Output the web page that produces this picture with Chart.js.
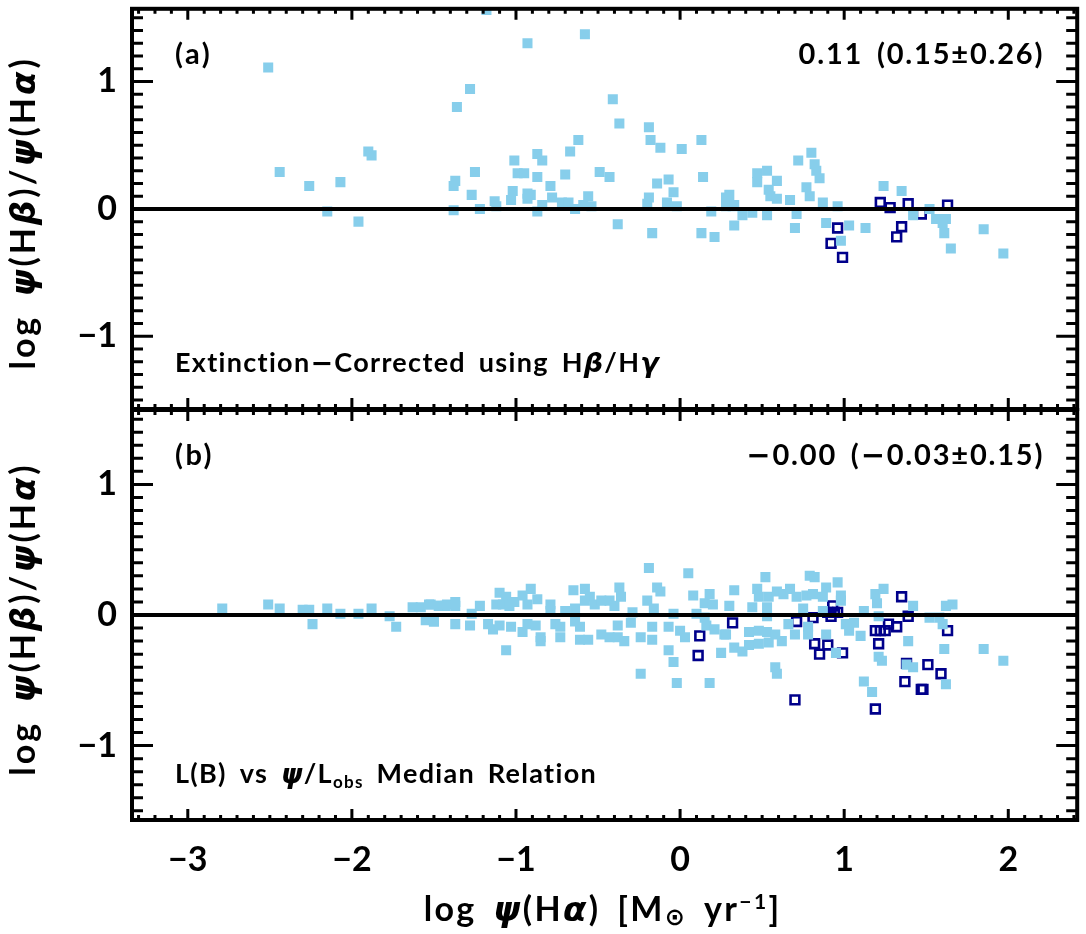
<!DOCTYPE html>
<html>
<head>
<meta charset="utf-8">
<script src="https://cdn.jsdelivr.net/npm/chart.js@4.4.1/dist/chart.umd.min.js"></script>
<style>
  html, body { margin: 0; padding: 0; background: #fff; }
  #wrap { position: relative; width: 1086px; height: 934px; }
  #wrap canvas { position: absolute; left: 0; top: 0; }
</style>
</head>
<body>
<div id="wrap">
  <canvas id="panelA" width="1086" height="934"></canvas>
  <canvas id="panelB" width="1086" height="934"></canvas>
</div>
<script>
// axis ranges
const X_MIN = -3.34, X_MAX = 2.42;
const Y_MIN = -1.57, Y_MAX = 1.57;

// panel (a): extinction-corrected using Hb/Hg
const aFilledX = [-2.51, -2.44, -2.26, -2.07, -2.15, -1.96, -1.90, -1.88,
  -1.18, -0.93, -0.58, -1.28, -1.36, -0.41, -0.37, -0.19, -0.18, -0.12, 0.01, 0.13, 0.14,
  -0.62, -0.67, -0.87, -0.84, -1.01, -1.25, -1.38, -1.37, -0.99, -0.95, -0.87, -0.70, -0.49,
  -0.43, -0.14, -0.07, -0.04, -0.79, -1.27, -1.02, -1.03, -0.93, -0.91, -0.93, -1.13, -1.12,
  -0.78, -0.56, -0.72, -0.68, -0.64, -0.59, -0.54, -0.84, -0.87, -1.22, -1.38, -0.20, -0.19,
  -0.08, -0.02, -0.38, -0.17, 0.13, 0.21, 0.33, 0.19, 0.28, 0.32, 0.28, 0.30, 0.38,
  0.33, 0.44, 0.47, 0.47, 0.53, 0.59, 0.54, 0.55, 0.59, 0.53, 0.67, 0.71, 0.70, 0.72, 0.80,
  0.82, 0.83, 0.85, 0.77, 0.79, 0.87, 0.89, 0.96, 0.98, 1.03, 1.13, 1.24, 1.35, 1.42, 1.52,
  1.56, 1.62, 1.60, 1.61, 1.65, 1.85, 1.97];
const aFilledY = [1.11, 0.29, 0.18, 0.21, -0.02, -0.10, 0.45, 0.42,
  1.56, 1.30, 1.37, 0.94, 0.80, 0.86, 0.67, 0.64, 0.54, 0.48, 0.47, 0.54, 0.25,
  0.54, 0.45, 0.43, 0.38, 0.38, 0.29, 0.18, 0.22, 0.28, 0.28, 0.25, 0.27, 0.29,
  0.25, 0.20, 0.23, 0.13, 0.18, 0.11, 0.14, 0.07, 0.12, 0.11, 0.08, 0.06, 0.02,
  0.09, 0.10, 0.05, 0.05, 0.00, 0.03, 0.02, 0.03, -0.02, 0.00, -0.01, 0.04, 0.09,
  0.05, 0.02, -0.12, -0.19, -0.19, -0.22, -0.13, -0.02, 0.02, 0.02, 0.09, 0.11, -0.05,
  0.03, -0.03, 0.21, 0.28, 0.30, 0.22, 0.15, 0.10, 0.08, -0.05, 0.07, -0.04, -0.15, 0.38, 0.44,
  0.35, 0.30, 0.24, 0.17, 0.10, 0.05, -0.11, 0.02, -0.25, -0.13, -0.15, 0.18, 0.14, -0.05, 0.00,
  -0.08, -0.08, -0.11, -0.19, -0.31, -0.16, -0.35];
const aOpenX = [1.22, 1.28, 1.39, 1.47, 1.63, 0.96, 0.92, 0.99, 1.35, 1.32];
const aOpenY = [0.05, 0.01, 0.04, -0.04, 0.03, -0.15, -0.27, -0.38, -0.14, -0.22];

// panel (b): L(B) vs psi/Lobs median relation
const bFilledX = [-2.79, -2.51, -2.44, -2.30, -2.26, -2.24, -2.15, -2.07, -1.96, -1.88,
  -1.77, -1.73, -1.63, -1.58, -1.53, -1.47, -1.43, -1.55, -1.50,
  -1.52, -1.47, -1.42, -1.37, -1.37, -1.50, -1.37, -1.28, -1.27, -1.22, -1.17, -1.14,
  -1.10, -1.06, -1.12, -1.08, -1.04, -1.01, -1.10, -1.03, -1.06,
  -0.96, -0.91, -0.87, -0.93, -0.96, -0.93, -0.88, -0.85, -0.85,
  -0.79, -0.79, -0.76, -0.73, -0.73, -0.70, -0.64, -0.65, -0.58, -0.55, -0.58,
  -0.64, -0.61, -0.61, -0.56, -0.52, -0.48, -0.43, -0.40,
  -0.48, -0.43, -0.38, -0.34, -0.38, -0.37, -0.36, -0.30, -0.29, -0.24, -0.24,
  -0.19, -0.20, -0.16, -0.14, -0.12, -0.17, -0.17, -0.07, -0.07, -0.04, -0.04, -0.02,
  0.00, 0.03, 0.05, 0.08, 0.15, 0.18, 0.20, 0.18, 0.16, 0.21, 0.27, 0.25, 0.33, 0.38,
  0.33, 0.30, 0.10, 0.15,
  0.28, 0.42, 0.48, 0.53, 0.58, 0.42, 0.48, 0.54, 0.47, 0.48, 0.54, 0.59, 0.63, 0.67,
  0.52, 0.44, 0.53, 0.53, 0.58, 0.59, 0.62, 0.66, 0.70, 0.71, 0.77, 0.81, 0.89,
  0.79, 0.82, 0.75, 0.78, 0.78, 0.87, 0.87, 0.89, 0.95, 0.96, 0.98, 0.98, 1.01, 1.03,
  1.06, 1.12, 1.10, 1.12, 1.17, 1.19, 1.24, 1.20, 1.21, 1.21, 1.23, 1.39, 1.42, 1.38, 1.42,
  1.52, 1.58, 1.62, 1.66, 1.60, 1.61, 1.62, 1.85, 1.97];
const bFilledY = [0.05, 0.08, 0.05, 0.04, 0.04, -0.07, 0.05, 0.01, 0.01, 0.05,
  -0.01, -0.09, 0.06, 0.06, 0.08, 0.07, 0.07, -0.04, -0.05,
  0.08, 0.07, 0.08, 0.10, 0.07, -0.05, -0.07, -0.08, 0.01, 0.07, -0.07, -0.11,
  0.17, 0.14, 0.08, 0.08, 0.07, 0.10, -0.08, -0.09, -0.27,
  0.15, 0.20, 0.12, 0.08, -0.13, -0.07, -0.08, -0.17, -0.20,
  0.08, 0.03, -0.07, -0.17, -0.09, 0.03, 0.05, 0.19, 0.20, 0.14, 0.11,
  -0.05, -0.09, -0.19, -0.19, 0.08, 0.11, 0.11, 0.07,
  -0.15, -0.17, -0.17, -0.20, -0.08, 0.21, 0.14, -0.06, 0.02, -0.17, -0.45,
  0.36, 0.11, 0.05, 0.21, 0.18, -0.09, -0.19, -0.09, -0.27, 0.01, -0.36, -0.52,
  -0.12, -0.17, 0.32, 0.15, 0.09, 0.16, 0.08, -0.52, -0.08, -0.11, -0.15, -0.29, -0.25, -0.28,
  0.19, 0.07, 0.01, -0.02,
  -0.15, -0.13, -0.12, -0.13, -0.15, -0.23, -0.22, -0.21, 0.20, 0.14, 0.14, 0.18, 0.16, 0.20,
  0.29, 0.06, 0.06, -0.01, -0.40, -0.45, -0.20, -0.07, -0.15, 0.14, 0.15, 0.16, 0.21,
  0.30, 0.29, 0.05, -0.09, -0.15, 0.14, 0.03, -0.15, -0.29, 0.25, 0.15, 0.11, -0.07, -0.12,
  -0.06, 0.03, -0.16, -0.51, -0.59, 0.16, 0.20, 0.09, -0.01, -0.32, -0.35, -0.20, 0.07, -0.38, -0.40,
  -0.02, -0.02, 0.07, 0.08, -0.07, -0.26, -0.53, -0.26, -0.35];
const bOpenX = [0.12, 0.11, 0.32, 0.71, 0.81, 0.93, 0.92, 0.94, 0.96, 0.90, 0.82, 0.90,
  0.85, 0.99, 0.70, 1.19, 1.22, 1.25, 1.27, 1.32, 1.39, 1.21, 1.35, 1.63, 1.38, 1.37,
  1.51, 1.59, 1.47, 1.48, 1.19];
const bOpenY = [-0.16, -0.31, -0.06, -0.05, -0.02, 0.07, -0.01, 0.02, 0.02, 0.02, -0.22, -0.23,
  -0.30, -0.29, -0.65, -0.12, -0.12, -0.12, -0.07, -0.09, -0.01, -0.22, 0.14, -0.12, -0.37, -0.51,
  -0.38, -0.45, -0.57, -0.57, -0.72];

const FILL_BLUE = '#87ceeb';
const OPEN_BLUE = '#00008b';
const BASE = 'Lato, "DejaVu Sans", sans-serif';
const GREEK = '"DejaVu Sans", sans-serif';

// panel texts as rich runs: b bold, m wide minus, g greek, sub, gsub, sup
const aLabel = [['(a)', 'b']];
const aStat = [['0.11 (0.15\u00b10.26)', 'b']];
const bLabel = [['(b)', 'b']];
const bStat = [['\u2212', 'm'], ['0.00 (', 'b'], ['\u2212', 'm'], ['0.03\u00b10.15)', 'b']];
const aNote = [['Extinction', 'b'], ['\u2212', 'm'], ['Corrected using H', 'b'], ['\u03b2', 'g'],
  ['/H', 'b'], ['\u03b3', 'g']];
const bNote = [['L(B) vs ', 'b'], ['\u03c8', 'g'], ['/L', 'b'], ['obs', 'sub'], [' Median Relation', 'b']];
const yTitle = [['log ', 'b'], ['\u03c8', 'g'], ['(H', 'b'], ['\u03b2', 'g'], [')/', 'b'],
  ['\u03c8', 'g'], ['(H', 'b'], ['\u03b1', 'g'], [')', 'b']];
const xTitle = [['log ', 'b'], ['\u03c8', 'g'], ['(H', 'b'], ['\u03b1', 'g'], [') [M', 'b'],
  ['\u2299', 'gsub'], [' yr', 'b'], ['\u22121', 'sup'], [']', 'b']];

function toPoints(xs, ys) {
  return xs.map((x, i) => ({ x: x, y: ys[i] }));
}

function minus(v) {
  return v < 0 ? '\u2212' + Math.abs(v) : String(v);
}

function fontFor(kind, size) {
  if (kind === 'g') return 'italic bold ' + size + 'px ' + GREEK;
  if (kind === 'm') return 'bold ' + size + 'px ' + GREEK;
  if (kind === 'sub' || kind === 'sup') return 'bold ' + Math.round(size * 0.62) + 'px ' + BASE;
  if (kind === 'gsub') return 'bold ' + Math.round(size * 0.7) + 'px ' + GREEK;
  return 'bold ' + size + 'px ' + BASE;
}

function drawRich(ctx, parts, x, y, size, align, ls, ws) {
  ctx.letterSpacing = (ls || 0) + 'px';
  ctx.wordSpacing = (ws || 0) + 'px';
  let w = 0;
  parts.forEach(p => { ctx.font = fontFor(p[1], size); w += ctx.measureText(p[0]).width; });
  let cx = align === 'right' ? x - w : align === 'center' ? x - w / 2 : x;
  ctx.textAlign = 'left';
  ctx.textBaseline = 'alphabetic';
  parts.forEach(p => {
    ctx.font = fontFor(p[1], size);
    let dy = 0;
    if (p[1] === 'sub') dy = size * 0.2;
    if (p[1] === 'gsub') dy = size * 0.12;
    if (p[1] === 'sup') dy = -size * 0.36;
    ctx.fillText(p[0], cx, y + dy);
    cx += ctx.measureText(p[0]).width;
  });
  ctx.letterSpacing = '0px';
  ctx.wordSpacing = '0px';
}

// inward IDL-style ticks, frame, zero line and labels
const idlFrame = {
  id: 'idlFrame',
  afterDatasetsDraw(chart, args, opts) {
    const ctx = chart.ctx, a = chart.chartArea;
    const xs = chart.scales.x, ys = chart.scales.y;
    ctx.save();
    ctx.strokeStyle = '#000';
    ctx.lineCap = 'butt';

    const y0 = ys.getPixelForValue(0);
    ctx.lineWidth = 4;
    ctx.beginPath();
    ctx.moveTo(a.left, y0);
    ctx.lineTo(a.right, y0);
    ctx.stroke();

    ctx.lineWidth = 3;
    ctx.beginPath();
    for (let i = Math.ceil(X_MIN * 10); i <= Math.floor(X_MAX * 10); i++) {
      const px = xs.getPixelForValue(i / 10);
      const len = i % 10 === 0 ? 11 : 5;
      ctx.moveTo(px, a.top); ctx.lineTo(px, a.top + len);
      ctx.moveTo(px, a.bottom); ctx.lineTo(px, a.bottom - len);
    }
    for (let i = Math.ceil(Y_MIN * 10); i <= Math.floor(Y_MAX * 10); i++) {
      const py = ys.getPixelForValue(i / 10);
      const len = i % 10 === 0 ? 21 : 11;
      ctx.moveTo(a.left, py); ctx.lineTo(a.left + len, py);
      ctx.moveTo(a.right, py); ctx.lineTo(a.right - len, py);
    }
    ctx.stroke();

    ctx.lineWidth = 4;
    ctx.strokeRect(a.left, a.top, a.right - a.left, a.bottom - a.top);

    ctx.fillStyle = '#000';
    drawRich(ctx, opts.label, a.left + 43, a.top + 55, 29, 'left', 2.5, 6);
    drawRich(ctx, opts.stat, a.right - 33, a.top + 55, 29, 'right', 1.8, 5);
    drawRich(ctx, opts.note, a.left + 43, a.bottom - 37, 27, 'left', 1.3, 5);

    ctx.save();
    ctx.translate(35, (a.top + a.bottom) / 2 + 4);
    ctx.rotate(-Math.PI / 2);
    drawRich(ctx, yTitle, 0, 0, 34, 'center', 3, 7);
    ctx.restore();

    if (opts.xTitle) {
      drawRich(ctx, xTitle, (a.left + a.right) / 2 - 2, 921, 34, 'center', 2.4, 6);
    }
    ctx.restore();
  }
};

function makePanel(id, filled, open, pad, showX, texts) {
  return new Chart(document.getElementById(id), {
    type: 'scatter',
    data: {
      datasets: [
        {
          data: filled,
          pointStyle: 'rect',
          pointRadius: 7.1,
          backgroundColor: FILL_BLUE,
          borderWidth: 0,
          clip: 0
        },
        {
          data: open,
          pointStyle: 'rect',
          pointRadius: 6.2,
          backgroundColor: 'rgba(0,0,0,0)',
          borderColor: OPEN_BLUE,
          borderWidth: 2.6,
          clip: 0
        }
      ]
    },
    options: {
      responsive: false,
      animation: false,
      events: [],
      layout: { padding: pad },
      plugins: {
        legend: { display: false },
        tooltip: { enabled: false },
        idlFrame: texts
      },
      scales: {
        x: {
          type: 'linear',
          min: X_MIN,
          max: X_MAX,
          display: showX,
          grid: { display: false, drawTicks: false },
          border: { display: false },
          afterFit: s => {
            s.height = showX ? 114 : 0;
            s.paddingLeft = 0;
            s.paddingRight = 0;
          },
          ticks: {
            stepSize: 1,
            includeBounds: false,
            autoSkip: false,
            maxRotation: 0,
            padding: 20,
            color: '#000',
            font: { family: BASE, size: 34, weight: 'bold' },
            callback: v => minus(v)
          }
        },
        y: {
          type: 'linear',
          min: Y_MIN,
          max: Y_MAX,
          grid: { display: false, drawTicks: false },
          border: { display: false },
          afterFit: s => {
            s.width = 132;
            s.paddingTop = 0;
            s.paddingBottom = 0;
          },
          ticks: {
            stepSize: 1,
            includeBounds: false,
            autoSkip: false,
            padding: 15,
            color: '#000',
            font: { family: BASE, size: 34, weight: 'bold' },
            callback: v => minus(v)
          }
        }
      }
    },
    plugins: [idlFrame]
  });
}

makePanel('panelA', toPoints(aFilledX, aFilledY), toPoints(aOpenX, aOpenY),
  { left: 0, right: 3, top: 3, bottom: 525 }, false,
  { label: aLabel, stat: aStat, note: aNote, xTitle: false });

makePanel('panelB', toPoints(bFilledX, bFilledY), toPoints(bOpenX, bOpenY),
  { left: 0, right: 3, top: 410, bottom: 0 }, true,
  { label: bLabel, stat: bStat, note: bNote, xTitle: true });
</script>
</body>
</html>
